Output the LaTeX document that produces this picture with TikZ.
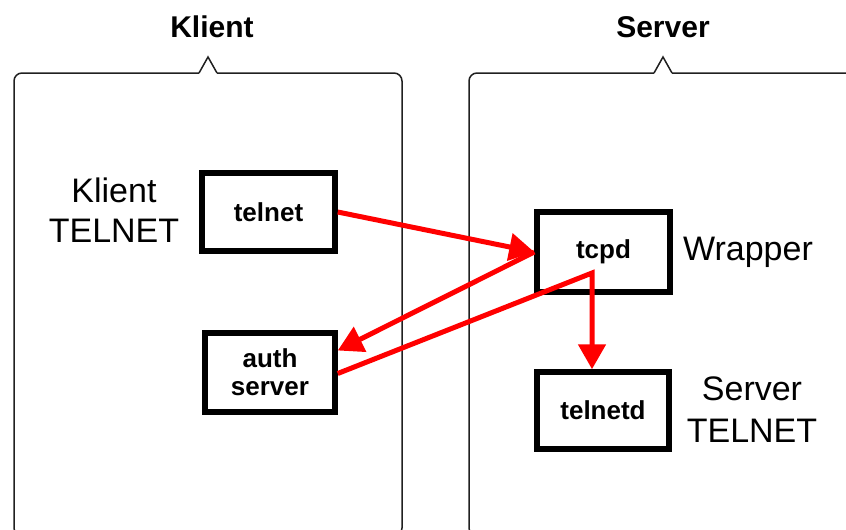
\documentclass[tikz,border=0pt]{standalone}
\usepackage{fontspec}
\setmainfont{Liberation Sans}
\usetikzlibrary{arrows.meta}
\definecolor{frame}{HTML}{202020}
\definecolor{flow}{HTML}{FF0000}
\tikzset{
  group/.style={draw=frame, line width=1.5pt},
  proc/.style={draw=black, line width=5.5pt, fill=white, inner sep=0pt,
    font=\fontsize{26}{30}\selectfont\bfseries, align=center},
  title/.style={font=\fontsize{30}{36}\selectfont\bfseries, anchor=base},
  note/.style={font=\fontsize{34}{40}\selectfont, align=center, anchor=base},
  link/.style={draw=flow, line width=5pt},
  tip/.style={-{Triangle[length=25pt,width=27pt]}},
}
\begin{document}
\begin{tikzpicture}[x=1pt,y=-1pt]
\useasboundingbox (0,0) rectangle (846,530);
\clip (0,0) rectangle (846,530);

% group frames with a small peak under each title
\draw[group, rounded corners=8pt] (199,73) -- (14,73) -- (14,536) -- (402,536) -- (402,73) -- (217,73);
\draw[group] (199,73) -- (208,57) -- (217,73);
\draw[group, rounded corners=8pt] (654,73) -- (469,73) -- (469,536) -- (860,536) -- (860,73) -- (672,73);
\draw[group] (654,73) -- (663,57) -- (672,73);

\node[title] (tk) at (212,37) {Klient};
\node[title] (ts) at (663,37) {Server};

% processes
\node[proc, minimum width=133pt, minimum height=78pt] (telnet) at (268.5,212) {telnet};
\node[proc, minimum width=133pt, minimum height=80pt] (tcpd) at (603.5,252) {tcpd};
\node[proc, minimum width=130pt, minimum height=79pt] (auth) at (270,372.5) {auth\\[-2pt]server};
\node[proc, minimum width=132pt, minimum height=77pt] (telnetd) at (603,410.5) {telnetd};

% side labels (base anchor sits on the last line)
\node[note] (lk) at (114,242) {Klient\\TELNET};
\node[note] (lw) at (748,260) {Wrapper};
\node[note] (ls) at (752,442) {Server\\[2pt]TELNET};

% connections
\coordinate (bend) at (592,273);
\draw[link, tip] (telnet.east) -- (tcpd.west);
\draw[link, tip] (tcpd.west) -- ([yshift=22pt]auth.east);
\draw[link, tip] ([yshift=-1pt]auth.east) -- (bend) -- (bend |- telnetd.north);
\end{tikzpicture}
\end{document}
